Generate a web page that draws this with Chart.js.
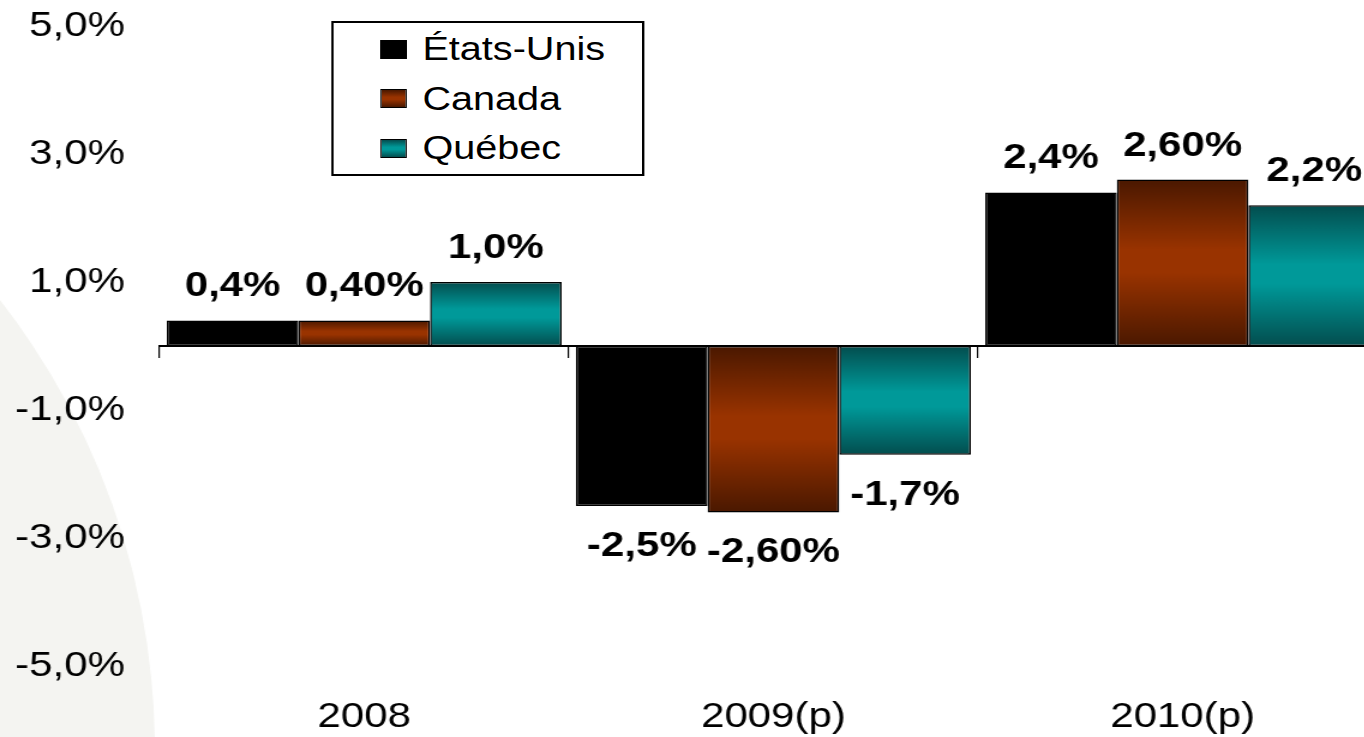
<!DOCTYPE html>
<html>
<head>
<meta charset="utf-8">
<script src="https://cdn.jsdelivr.net/npm/chart.js@4.4.0/dist/chart.umd.min.js"></script>
<style>
  html, body { margin: 0; padding: 0; background: #fff; overflow: hidden; width: 1364px; height: 737px; }
  #wrap { position: absolute; left: 0; top: 0; width: 1160px; height: 737px; transform: scaleX(1.2); transform-origin: 0 0; }
  #c { position: absolute; left: 0; top: 0; }
  #legend { position: absolute; left: 276px; top: 21px; width: 261px; height: 155px; border: 2px solid #000; box-sizing: border-box; background: #fff; font-family: "Liberation Sans", Arial, sans-serif; }
  .row { position: absolute; left: 0; height: 40px; }
  .mk { position: absolute; left: 39px; width: 22px; height: 19px; border: 1.5px solid #000; box-sizing: border-box; }
  .tx { position: absolute; left: 74px; font-size: 33px; color: #000; white-space: nowrap; line-height: 40px; top: 0; }
</style>
</head>
<body>
<div id="wrap">
  <canvas id="c" width="1160" height="737"></canvas>
  <div id="legend"></div>
</div>
<script>
// ---- data ----
const categories = ['2008', '2009(p)', '2010(p)'];
const seriesNames = ['États-Unis', 'Canada', 'Québec'];
const usValues = [0.4, -2.5, 2.4];
const canadaValues = [0.4, -2.6, 2.6];
const quebecValues = [1.0, -1.7, 2.2];
const usLabels = ['0,4%', '-2,5%', '2,4%'];
const canadaLabels = ['0,40%', '-2,60%', '2,60%'];
const quebecLabels = ['1,0%', '-1,7%', '2,2%'];
const yTickValues = [-5, -3, -1, 1, 3, 5];

const FONT = '"Liberation Sans", Arial, sans-serif';
const palette = [
  { dark: '#000000', bright: '#000000' },
  { dark: '#4a1800', bright: '#993300' },
  { dark: '#034d4e', bright: '#009999' }
];

function barGradient(dark, bright) {
  return (c) => {
    const chart = c.chart;
    if (dark === bright || !chart.chartArea || c.type !== 'data') return bright;
    const y = chart.scales.y;
    const v = c.raw;
    const top = y.getPixelForValue(Math.max(v, 0));
    const bot = y.getPixelForValue(Math.min(v, 0));
    if (bot - top < 2) return bright;
    const g = chart.ctx.createLinearGradient(0, top, 0, bot);
    g.addColorStop(0, dark);
    g.addColorStop(0.42, bright);
    g.addColorStop(0.56, bright);
    g.addColorStop(1, dark);
    return g;
  };
}

const valuesList = [usValues, canadaValues, quebecValues];
const labelsList = [usLabels, canadaLabels, quebecLabels];

const datasets = seriesNames.map((name, i) => ({
  label: name,
  data: valuesList[i],
  backgroundColor: barGradient(palette[i].dark, palette[i].bright),
  borderColor: '#000',
  borderWidth: 1.5,
  borderSkipped: false,
  categoryPercentage: 0.965,
  barPercentage: 1.0
}));

// legend (HTML)
const legendEl = document.getElementById('legend');
seriesNames.forEach((name, i) => {
  const row = document.createElement('div');
  row.className = 'row';
  row.style.top = (6 + i * 49.5) + 'px';
  row.style.width = '100%';
  const mk = document.createElement('div');
  mk.className = 'mk';
  mk.style.top = '10.5px';
  mk.style.background = palette[i].dark === palette[i].bright ? palette[i].bright :
    `linear-gradient(to bottom, ${palette[i].dark} 0%, ${palette[i].bright} 42%, ${palette[i].bright} 56%, ${palette[i].dark} 100%)`;
  const tx = document.createElement('div');
  tx.className = 'tx';
  tx.textContent = name;
  row.appendChild(mk);
  row.appendChild(tx);
  legendEl.appendChild(row);
});

const bgPlugin = {
  id: 'bgShape',
  beforeDraw(chart) {
    const ctx = chart.ctx;
    ctx.save();
    ctx.fillStyle = '#f4f4f1';
    ctx.beginPath();
    ctx.ellipse(-480, 750, 609, 731, 0, 0, Math.PI * 2);
    ctx.fill();
    ctx.restore();
  }
};

const valueLabelPlugin = {
  id: 'valueLabels',
  afterDatasetsDraw(chart) {
    const ctx = chart.ctx;
    ctx.save();
    ctx.font = 'bold 35px ' + FONT;
    ctx.fillStyle = '#000';
    ctx.textAlign = 'center';
    ctx.textBaseline = 'alphabetic';
    chart.data.datasets.forEach((ds, di) => {
      const meta = chart.getDatasetMeta(di);
      meta.data.forEach((bar, i) => {
        const v = ds.data[i];
        const y = v >= 0 ? bar.y - 24 : bar.y + 50;
        ctx.fillText(labelsList[di][i], bar.x, y);
      });
    });
    ctx.restore();
  }
};

function zeroPad(scale) {
  scale.paddingTop = 0;
  scale.paddingBottom = 0;
}

new Chart(document.getElementById('c'), {
  type: 'bar',
  data: { labels: categories, datasets },
  plugins: [bgPlugin, valueLabelPlugin],
  options: {
    responsive: false,
    animation: false,
    layout: { padding: { top: 26, right: 4, left: 0, bottom: 0 } },
    plugins: { legend: { display: false }, tooltip: { enabled: false } },
    scales: {
      x: {
        type: 'category',
        position: 'bottom',
        offset: true,
        grid: { display: false, drawTicks: false },
        border: { display: false },
        ticks: { color: '#000', font: { family: FONT, size: 35 }, padding: 30, maxRotation: 0 },
        afterFit(scale) { scale.height = 71; zeroPad(scale); }
      },
      x2: {
        type: 'category',
        position: { y: 0 },
        offset: true,
        grid: { display: true, offset: true, drawOnChartArea: false, drawTicks: true, tickLength: 11, color: '#000', lineWidth: 1.2 },
        border: { display: true, color: '#000', width: 2 },
        ticks: { display: false },
        afterFit(scale) { zeroPad(scale); }
      },
      y: {
        min: -5,
        max: 5,
        grid: { display: false, drawTicks: false },
        border: { display: false },
        afterBuildTicks(scale) { scale.ticks = yTickValues.map(v => ({ value: v })); },
        ticks: {
          color: '#000',
          padding: 29,
          font: { family: FONT, size: 35 },
          callback: (v) => v.toFixed(1).replace('.', ',') + '%'
        },
        afterFit(scale) { scale.width = 133; zeroPad(scale); }
      }
    }
  }
});
</script>
</body>
</html>
